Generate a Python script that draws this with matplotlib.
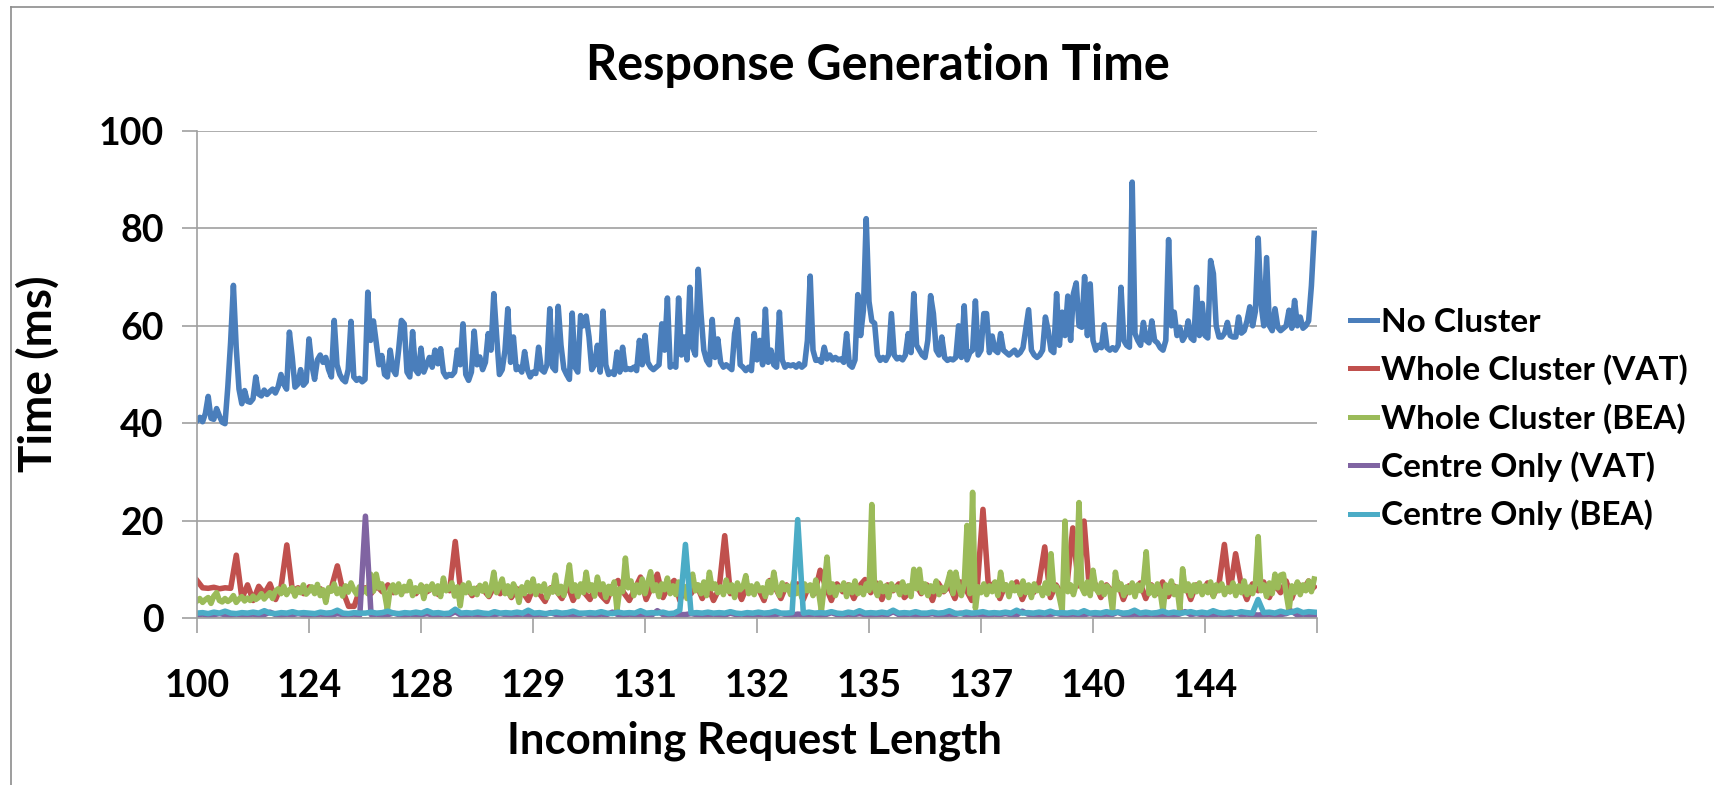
import numpy as np
import matplotlib
matplotlib.use("Agg")
import matplotlib.pyplot as plt
from matplotlib.lines import Line2D

# ---------------- data ----------------
tick_labels = ["100", "124", "128", "129", "131", "132", "135", "137", "140", "144"]
series_names = ["No Cluster", "Whole Cluster (VAT)", "Whole Cluster (BEA)",
                "Centre Only (VAT)", "Centre Only (BEA)"]

no_cluster = [
    40.5, 41.2, 40.3, 42.0, 45.5, 41.0, 40.8, 43.0, 41.5, 40.2,
    39.9, 47.4, 56.6, 68.3, 55.6, 47.0, 44.0, 46.7, 44.5, 44.3,
    45.0, 49.5, 46.0, 45.6, 46.8, 45.9, 46.5, 47.0, 46.2, 47.5,
    50.0, 48.0, 47.0, 58.7, 53.6, 47.4, 48.0, 51.0, 47.8, 48.5,
    57.3, 52.0, 49.0, 53.0, 54.0, 52.5, 53.5, 51.0, 49.5, 61.1,
    52.0, 50.0, 49.0, 48.5, 51.0, 60.9, 49.5, 48.8, 49.2, 48.5,
    49.0, 66.9, 57.0, 61.0, 56.6, 52.0, 53.9, 50.0, 49.5, 55.0,
    51.0, 50.0, 55.0, 61.1, 60.4, 50.5, 49.5, 58.8, 51.0, 50.2,
    55.4, 50.5, 52.0, 53.5, 51.5, 55.0, 52.2, 55.3, 50.5, 49.5,
    50.0, 49.8, 50.5, 55.0, 52.0, 60.4, 50.0, 48.8, 50.5, 58.9,
    52.0, 53.6, 51.0, 52.5, 58.4, 55.0, 66.6, 58.0, 50.0, 51.0,
    55.0, 63.5, 52.5, 57.7, 51.0, 51.5, 50.5, 54.7, 51.0, 49.5,
    50.5, 50.2, 55.6, 51.0, 50.5, 52.0, 63.5, 51.5, 50.8, 64.0,
    56.0, 51.2, 50.0, 49.0, 62.6, 51.5, 50.5, 62.1, 60.0, 62.0,
    57.7, 51.0, 52.0, 56.0, 50.5, 63.0, 52.0, 50.0, 50.5, 50.0,
    54.6, 50.5, 55.6, 51.0, 51.2, 51.0, 51.5, 50.8, 57.0, 52.0,
    58.0, 52.5, 51.5, 51.0, 51.5, 52.0, 60.4, 55.0, 65.7, 51.5,
    52.0, 51.5, 65.7, 54.0, 57.7, 53.0, 67.9, 55.6, 54.0, 71.6,
    62.5, 55.0, 52.9, 52.0, 61.3, 53.5, 57.3, 52.5, 51.5, 52.0,
    51.5, 51.0, 58.4, 61.3, 52.0, 51.5, 50.8, 51.5, 50.8, 58.4,
    53.0, 57.0, 52.0, 63.4, 52.5, 55.0, 52.0, 51.5, 62.8, 53.0,
    51.5, 52.0, 51.8, 52.0, 51.5, 52.2, 51.5, 52.0, 57.0, 70.2,
    55.0, 52.9, 53.0, 52.5, 55.6, 53.2, 54.0, 53.0, 53.5, 53.0,
    53.2, 52.5, 58.4, 52.0, 51.5, 53.0, 66.4, 58.0, 63.2, 82.0,
    65.0, 61.0, 60.5, 54.0, 52.9, 53.5, 52.9, 54.0, 62.5, 54.0,
    53.2, 53.5, 53.0, 54.0, 58.4, 54.5, 66.6, 56.0, 55.0, 54.0,
    53.5, 57.0, 66.2, 62.5, 55.0, 54.0, 57.7, 53.5, 52.9, 53.2,
    53.0, 53.5, 60.0, 53.5, 64.1, 53.0, 54.5, 55.0, 65.1, 54.0,
    55.0, 62.5, 62.5, 54.5, 57.9, 55.0, 54.5, 58.4, 55.0, 54.5,
    54.0, 54.5, 55.0, 54.0, 54.5, 55.5, 59.4, 63.3, 55.0, 54.0,
    53.5, 54.0, 55.0, 61.8, 59.0, 55.0, 54.5, 66.6, 56.0, 62.8,
    58.0, 66.1, 57.0, 66.6, 68.8, 60.0, 59.7, 70.1, 58.0, 68.6,
    57.0, 55.0, 56.0, 55.5, 60.2, 55.5, 55.0, 55.5, 55.0, 56.0,
    67.9, 57.0, 56.0, 55.6, 89.5, 58.4, 57.0, 56.0, 60.7, 57.0,
    56.5, 61.0, 57.0, 56.5, 55.5, 55.0, 57.0, 77.7, 60.0, 62.8,
    58.0, 59.7, 57.0, 58.0, 61.0, 57.5, 57.0, 67.9, 58.0, 64.6,
    58.0, 57.5, 73.4, 70.7, 60.0, 57.7, 57.7, 58.5, 60.7, 58.0,
    57.7, 57.7, 61.8, 58.5, 59.0, 61.0, 63.9, 60.0, 63.0, 78.0,
    64.6, 60.0, 74.0, 60.0, 59.0, 63.5, 59.7, 59.0, 59.5, 60.0,
    63.2, 59.5, 65.2, 60.0, 61.8, 59.5, 60.0, 61.0, 68.2, 79.0,
]

whole_vat = [
    7.7, 6.2, 6.1, 6.3, 6.0, 6.2, 6.1, 12.9, 4.0, 6.8,
    3.6, 6.5, 5.0, 7.0, 3.8, 6.6, 15.0, 5.5, 6.2, 5.0,
    6.4, 5.2, 6.0, 4.8, 6.5, 10.7, 5.5, 2.4, 2.4, 5.8,
    6.2, 5.0, 6.6, 5.4, 6.8, 5.2, 6.0, 5.6, 6.4, 5.0,
    6.6, 5.4, 6.2, 4.8, 6.5, 5.6, 15.7, 5.2, 6.4, 4.6,
    6.2, 5.8, 4.4, 6.6, 5.0, 6.4, 4.2, 6.0, 5.4, 3.6,
    6.6, 5.0, 3.4, 6.2, 5.6, 4.0, 6.8, 3.6, 6.0, 5.2,
    3.8, 6.4, 4.6, 3.4, 6.6, 7.7, 5.2, 3.6, 6.0, 8.4,
    3.8, 6.4, 9.0, 4.2, 6.6, 7.7, 3.6, 6.2, 5.0, 6.8,
    4.0, 6.6, 3.6, 6.0, 16.9, 5.0, 6.4, 3.8, 6.6, 5.2,
    6.0, 3.6, 7.7, 6.2, 4.0, 6.8, 5.2, 7.0, 3.8, 6.6,
    5.0, 9.8, 6.4, 3.6, 7.0, 5.4, 6.8, 4.0, 6.6, 7.9,
    5.2, 7.2, 3.8, 6.8, 5.6, 7.0, 4.2, 5.4, 7.0, 5.0,
    6.8, 3.6, 7.2, 5.4, 6.6, 4.0, 7.4, 5.8, 3.6, 6.6,
    22.3, 6.0, 7.2, 4.0, 6.8, 5.6, 7.4, 3.8, 6.4, 5.2,
    7.4, 14.6, 4.2, 6.8, 5.0, 7.2, 18.5, 6.6, 19.9, 5.4,
    7.0, 4.2, 6.8, 5.4, 7.4, 3.8, 6.6, 5.6, 7.2, 4.0,
    6.8, 5.0, 7.4, 4.4, 6.6, 5.6, 7.0, 3.8, 6.8, 5.2,
    7.2, 4.6, 6.6, 15.1, 5.4, 13.2, 6.8, 3.8, 7.0, 5.6,
    7.4, 4.2, 6.8, 5.2, 7.6, 4.0, 7.2, 5.8, 7.6, 6.4,
]

whole_bea = [
    3.5, 4.0, 3.2, 3.8, 4.2, 3.0, 4.5, 5.2, 3.6, 3.3,
    4.0, 3.4, 3.8, 4.6, 3.2, 3.9, 4.4, 3.5, 4.1, 3.6,
    4.5, 3.8, 4.2, 5.0, 3.9, 4.6, 5.2, 4.0, 5.5, 6.0,
    5.0, 6.5, 4.8, 5.8, 6.2, 4.5, 6.0, 5.2, 6.8, 4.9,
    5.5, 6.4, 5.0, 6.9, 4.6, 5.8, 3.2, 6.2, 5.5, 7.0,
    5.0, 6.0, 4.5, 6.6, 5.3, 7.2, 5.8, 4.9, 6.4, 5.2,
    6.0, 5.0, 9.0, 5.5, 9.0, 6.2, 7.0, 5.0, 1.7, 6.0,
    6.8, 5.2, 7.0, 4.8, 6.5, 5.6, 7.5, 4.6, 6.2, 5.4,
    6.8, 4.0, 6.5, 5.8, 7.0, 5.0, 6.6, 4.4, 8.2, 5.6,
    6.0, 7.2, 4.5, 6.4, 2.5, 6.8, 5.2, 7.2, 5.0, 6.1,
    4.8, 6.7, 5.5, 7.0, 4.6, 6.0, 9.4, 5.2, 6.5, 8.0,
    5.0, 6.6, 4.5, 7.0, 5.8, 3.2, 6.4, 5.0, 7.3, 5.4,
    8.0, 4.8, 6.6, 5.5, 7.0, 4.2, 6.0, 5.3, 8.8, 5.0,
    6.5, 4.6, 7.2, 10.9, 5.5, 6.8, 4.4, 7.0, 5.2, 9.4,
    5.6, 6.8, 4.5, 8.4, 5.8, 7.0, 4.2, 6.5, 5.0, 7.4,
    1.7, 6.0, 5.4, 12.3, 6.2, 7.6, 4.6, 6.8, 5.2, 8.0,
    5.0, 7.2, 9.5, 5.6, 6.8, 4.4, 7.0, 5.8, 8.2, 5.0,
    6.6, 4.8, 7.4, 5.2, 6.5, 4.0, 7.0, 9.0, 5.6, 6.8,
    5.0, 7.4, 4.6, 9.4, 6.0, 7.0, 5.2, 6.4, 4.8, 7.8,
    5.4, 6.8, 4.2, 7.2, 5.8, 6.4, 8.7, 5.0, 6.6, 4.8,
    7.0, 5.6, 6.2, 4.4, 7.5, 5.2, 9.4, 6.0, 4.6, 7.2,
    5.8, 6.6, 4.8, 7.4, 5.0, 6.4, 4.2, 7.0, 5.6, 6.8,
    4.6, 7.8, 5.4, 1.4, 6.6, 12.5, 5.2, 7.0, 4.6, 6.4,
    5.8, 7.2, 4.4, 6.8, 5.2, 7.6, 5.0, 6.2, 4.8, 7.0,
    5.6, 23.3, 6.0, 4.6, 7.2, 5.4, 6.6, 4.2, 7.0, 5.8,
    6.4, 4.8, 7.4, 5.2, 6.6, 4.4, 10.0, 6.0, 10.0, 5.2,
    7.0, 4.6, 6.6, 5.4, 7.6, 4.8, 6.2, 5.6, 7.2, 9.4,
    5.0, 9.4, 6.4, 4.6, 7.0, 19.0, 5.0, 25.8, 2.0, 6.4,
    5.2, 7.0, 4.8, 6.6, 5.4, 7.4, 4.6, 9.4, 5.8, 6.8,
    4.4, 7.2, 5.6, 6.4, 4.8, 7.6, 5.2, 6.8, 4.2, 7.0,
    5.6, 6.2, 4.6, 7.2, 5.0, 13.2, 5.8, 6.4, 4.2, 1.4,
    19.9, 5.4, 6.8, 4.8, 7.0, 23.7, 6.2, 5.0, 7.4, 4.6,
    9.8, 6.0, 5.2, 7.2, 4.8, 6.6, 5.6, 1.4, 9.4, 5.8,
    7.0, 4.6, 6.4, 5.2, 7.2, 4.4, 6.8, 5.6, 7.4, 13.6,
    5.0, 6.6, 4.6, 7.0, 5.4, 1.4, 6.8, 5.2, 7.6, 4.8,
    6.4, 1.6, 10.1, 5.6, 7.0, 4.6, 6.8, 5.4, 7.2, 4.8,
    6.6, 5.2, 7.4, 4.4, 6.8, 5.6, 7.0, 4.8, 6.2, 5.4,
    7.2, 4.6, 6.6, 5.2, 7.6, 4.8, 6.4, 5.0, 7.0, 16.7,
    5.6, 6.8, 4.4, 7.2, 5.0, 9.0, 6.2, 8.8, 9.0, 5.0,
    1.5, 6.6, 5.2, 7.4, 4.8, 6.8, 5.6, 7.6, 5.4, 8.0,
]

centre_vat = [
    0.7, 0.8, 0.6, 0.7, 0.9, 0.7, 0.6, 0.8, 0.7, 0.7,
    0.8, 0.6, 0.7, 1.2, 0.7, 0.6, 0.8, 0.7, 0.9, 0.7,
    0.6, 0.7, 0.8, 0.7, 0.6, 0.9, 0.7, 0.7, 0.8, 0.6,
    20.9, 0.7, 0.8, 0.6, 0.7, 1.0, 0.7, 0.6, 0.8, 0.7,
    0.7, 0.9, 0.6, 0.7, 0.8, 0.7, 1.3, 0.6, 0.7, 0.8,
    0.7, 0.6, 0.8, 0.7, 0.9, 0.7, 0.6, 0.7, 0.8, 0.7,
    0.6, 0.8, 0.7, 1.1, 0.7, 0.6, 0.8, 0.7, 0.7, 0.9,
    0.7, 0.6, 0.8, 0.7, 1.2, 0.7, 0.6, 0.8, 0.7, 0.7,
    0.8, 0.6, 1.5, 0.7, 0.6, 0.8, 0.7, 0.7, 0.9, 0.7,
    0.6, 0.7, 0.8, 0.7, 0.6, 1.0, 0.7, 0.8, 0.7, 0.6,
    0.7, 0.8, 0.6, 0.7, 0.9, 0.7, 0.6, 0.8, 0.7, 0.7,
    0.8, 0.6, 0.7, 1.1, 0.7, 0.6, 0.8, 0.7, 0.9, 0.7,
    0.6, 0.7, 0.8, 0.7, 1.3, 0.7, 0.7, 0.8, 0.6, 0.7,
    0.7, 0.9, 0.6, 0.7, 0.8, 0.7, 1.0, 0.6, 0.7, 0.8,
    0.7, 0.6, 0.8, 0.7, 0.9, 0.7, 0.6, 1.4, 0.8, 0.7,
    0.6, 0.8, 0.7, 1.0, 0.7, 0.6, 0.8, 0.7, 0.7, 0.9,
    0.7, 0.6, 0.8, 0.7, 1.2, 0.7, 0.6, 0.8, 0.7, 0.7,
    0.8, 0.6, 0.7, 0.7, 0.6, 0.8, 1.3, 0.7, 0.9, 0.7,
    0.6, 0.7, 0.8, 0.7, 0.6, 1.0, 0.7, 0.8, 0.7, 0.6,
    0.7, 0.8, 0.6, 0.7, 0.9, 1.4, 0.6, 0.8, 0.7, 0.7,
]

centre_bea = [
    1.0, 1.1, 0.9, 1.2, 1.0, 1.4, 1.0, 0.9, 1.1, 1.0,
    1.2, 1.0, 1.5, 1.0, 0.9, 1.1, 1.0, 1.3, 1.0, 1.1,
    1.0, 0.9, 1.2, 1.0, 1.1, 1.6, 1.0, 0.9, 1.1, 1.0,
    1.0, 1.2, 1.0, 1.1, 1.4, 1.0, 0.9, 1.1, 1.0, 1.2,
    1.0, 1.5, 1.0, 1.1, 0.9, 1.0, 1.8, 1.0, 1.1, 1.0,
    1.2, 1.0, 0.9, 1.3, 1.0, 1.1, 1.0, 1.2, 1.0, 1.6,
    1.0, 1.1, 0.9, 1.0, 1.2, 1.0, 1.1, 1.4, 1.0, 1.0,
    1.1, 1.0, 1.3, 1.0, 0.9, 1.2, 1.0, 1.1, 1.0, 1.5,
    1.0, 1.1, 1.0, 1.2, 0.9, 1.0, 1.6, 15.1, 1.0, 1.1,
    1.0, 1.2, 1.0, 1.1, 1.0, 1.3, 1.0, 0.9, 1.1, 1.0,
    1.2, 1.0, 1.1, 1.4, 1.0, 1.0, 1.1, 20.2, 1.0, 1.2,
    1.0, 1.1, 1.0, 1.3, 1.0, 0.9, 1.2, 1.0, 1.5, 1.0,
    1.1, 1.0, 1.2, 1.0, 1.6, 1.0, 1.1, 1.0, 1.3, 1.0,
    1.0, 1.2, 1.0, 1.1, 1.5, 1.0, 0.9, 1.2, 1.0, 1.1,
    1.3, 1.0, 1.1, 1.0, 1.2, 1.0, 1.6, 1.0, 1.1, 1.0,
    1.2, 1.0, 1.4, 1.0, 1.1, 1.0, 1.2, 1.0, 1.5, 1.0,
    1.1, 1.0, 1.3, 1.0, 1.2, 1.0, 1.1, 1.6, 1.0, 1.2,
    1.0, 1.1, 1.4, 1.0, 1.2, 1.0, 1.1, 1.3, 1.0, 1.2,
    1.0, 1.5, 1.1, 1.0, 1.2, 1.0, 1.3, 1.1, 1.0, 3.8,
    1.1, 1.2, 1.0, 1.4, 1.1, 1.2, 1.6, 1.1, 1.3, 1.2,
]

all_series = [no_cluster, whole_vat, whole_bea, centre_vat, centre_bea]
colors = ["#4A7EBB", "#C0504D", "#9BBB59", "#8064A2", "#4BACC6"]

# ---------------- figure ----------------
FONT = ["Lato", "DejaVu Sans"]
plt.rcParams["font.family"] = FONT
plt.rcParams["font.weight"] = "bold"

W, H = 1715, 785
fig = plt.figure(figsize=(W / 100, H / 100), dpi=100)

# outer chart border (top and left edges visible)
fig.add_artist(Line2D([11 / W, 1.0], [1 - 7 / H, 1 - 7 / H], color="#8C8C8C", lw=1.2))
fig.add_artist(Line2D([11 / W, 11 / W], [0.0, 1 - 7 / H], color="#8C8C8C", lw=1.2))

L, R, T, B = 197, 1317, 131, 618
ax = fig.add_axes([L / W, 1 - B / H, (R - L) / W, (B - T) / H])

n_cat = len(no_cluster)
for vals, col, name in zip(all_series, colors, series_names):
    x = np.linspace(0, n_cat - 1, len(vals))
    ax.plot(x, vals, color=col, lw=4.0, solid_joinstyle="round", label=name)

ax.set_ylim(0, 100)
ax.set_xlim(0, n_cat)
ax.set_yticks(np.arange(0, 101, 20))
step = n_cat // 10
ax.set_xticks(np.arange(0, n_cat + 1, step))
ax.set_xticklabels(tick_labels + [""])

ax.grid(axis="y", color="#A0A0A0", lw=1.2)
ax.set_axisbelow(True)
for s in ["top", "right"]:
    ax.spines[s].set_visible(False)
for s in ["left", "bottom"]:
    ax.spines[s].set_color("#A0A0A0")
    ax.spines[s].set_linewidth(1.2)

ax.tick_params(axis="both", colors="#A0A0A0", labelcolor="black",
               labelsize=27, length=11, width=1.2, direction="out")
ax.tick_params(axis="x", pad=26)
ax.tick_params(axis="y", pad=13)
for lab in ax.get_xticklabels() + ax.get_yticklabels():
    lab.set_fontweight("bold")

fig.text(878 / W, 1 - 66 / H, "Response Generation Time", ha="center", va="center",
         fontsize=35, fontweight="bold")
fig.text(755 / W, 1 - 741 / H, "Incoming Request Length", ha="center", va="center",
         fontsize=31.5, fontweight="bold")
fig.text(38 / W, 1 - 374 / H, "Time (ms)", ha="center", va="center", rotation=90,
         fontsize=33, fontweight="bold")

handles = [Line2D([0], [0], color=c, lw=3.6) for c in colors]
leg = fig.legend(handles, series_names, loc="center left",
                 bbox_to_anchor=(1350 / W, 1 - 419 / H), frameon=False,
                 prop={"family": FONT, "weight": "bold", "size": 24},
                 handlelength=0.82, handletextpad=0.1, labelspacing=0.53,
                 borderpad=0, borderaxespad=0)

fig.savefig("out.png", dpi=100)
